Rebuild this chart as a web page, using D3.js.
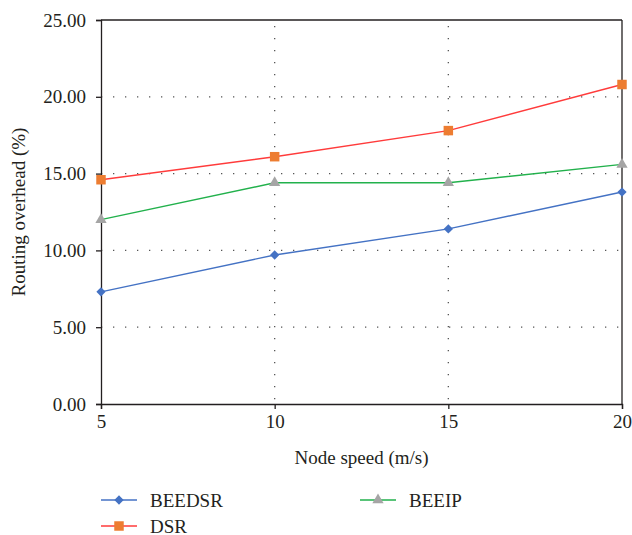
<!DOCTYPE html>
<html>
<head>
<meta charset="utf-8">
<script src="https://cdn.jsdelivr.net/npm/d3@7"></script>
<style>
  body { margin: 0; background: #fff; }
  svg text { fill: #231f20; }
</style>
</head>
<body>
<div id="chart"></div>
<script>
// node speed values on the x axis
const speeds = [5, 10, 15, 20];
// routing overhead (%) per protocol
const beedsr = [7.3, 9.7, 11.4, 13.8];
const dsr = [14.6, 16.1, 17.8, 20.8];
const beeip = [12.0, 14.4, 14.4, 15.6];
const yTicks = [0, 5, 10, 15, 20, 25];

const series = [
    { name: "BEEDSR", values: beedsr, line: "#4472c4", fill: "#4472c4", symbol: d3.symbolDiamond2 || d3.symbolDiamond, size: 55 },
    { name: "DSR", values: dsr, line: "#ff3b3b", fill: "#ed7d31", symbol: d3.symbolSquare, size: 90 },
    { name: "BEEIP", values: beeip, line: "#22b14c", fill: "#a5a5a5", symbol: d3.symbolTriangle, size: 55 }
];

const W = 632, H = 535;
const margin = { top: 20, right: 10, bottom: 131, left: 101 };
const width = 622 - margin.left, height = 404 - margin.top;
const serif = "Liberation Serif";
const fs = 19;

const svg = d3.select("#chart").append("svg")
    .attr("width", W).attr("height", H)
    .style("font-family", serif);
const g = svg.append("g").attr("transform", `translate(${margin.left},${margin.top})`);

const x = d3.scaleLinear().domain([5, 20]).range([0, width]);
const y = d3.scaleLinear().domain([0, 25]).range([height, 0]);

// dotted grid
g.append("g").selectAll("line")
    .data([5, 10, 15, 20])
    .enter().append("line")
    .attr("x1", 0).attr("x2", width)
    .attr("y1", d => y(d)).attr("y2", d => y(d))
    .attr("stroke", "#555").attr("stroke-width", 1.3)
    .attr("stroke-dasharray", "1.3,10.7").attr("stroke-dashoffset", -12);
g.append("g").selectAll("line")
    .data([10, 15])
    .enter().append("line")
    .attr("x1", d => x(d)).attr("x2", d => x(d))
    .attr("y1", 0).attr("y2", height)
    .attr("stroke", "#555").attr("stroke-width", 1.3)
    .attr("stroke-dasharray", "1.3,10.7").attr("stroke-dashoffset", -6);

// frame top and right
g.append("line").attr("x1", 0).attr("x2", width).attr("y1", 0).attr("y2", 0)
    .attr("stroke", "#231f20").attr("stroke-width", 1.3);
g.append("line").attr("x1", width).attr("x2", width).attr("y1", 0).attr("y2", height)
    .attr("stroke", "#231f20").attr("stroke-width", 1.3);

// axes
const yAxis = g.append("g")
    .call(d3.axisLeft(y).tickValues(yTicks).tickFormat(d3.format(".2f")).tickSize(5).tickPadding(10));
const xAxis = g.append("g").attr("transform", `translate(0,${height})`)
    .call(d3.axisBottom(x).tickValues(speeds).tickFormat(d3.format("d")).tickSize(5).tickPadding(6));
[xAxis, yAxis].forEach(a => {
    a.attr("font-family", serif).attr("font-size", fs);
    a.select(".domain").attr("stroke", "#231f20").attr("stroke-width", 1.3);
    a.selectAll(".tick line").attr("stroke", "#231f20").attr("stroke-width", 1.3);
    a.selectAll("text").attr("fill", "#231f20");
});

// lines and markers
const line = d3.line().x((d, i) => x(speeds[i])).y(d => y(d));
series.forEach(s => {
    g.append("path").datum(s.values)
        .attr("d", line).attr("fill", "none")
        .attr("stroke", s.line).attr("stroke-width", 1.4);
    g.append("g").selectAll("path")
        .data(s.values)
        .enter().append("path")
        .attr("transform", (d, i) => `translate(${x(speeds[i])},${y(d)})`)
        .attr("d", d3.symbol().type(s.symbol).size(s.size))
        .attr("fill", s.fill);
});

// axis titles
svg.append("text")
    .attr("x", margin.left + width / 2).attr("y", 464)
    .attr("text-anchor", "middle").attr("font-size", fs)
    .text("Node speed (m/s)");
svg.append("text")
    .attr("transform", `translate(25,${margin.top + height / 2}) rotate(-90)`)
    .attr("text-anchor", "middle").attr("font-size", fs)
    .text("Routing overhead (%)");

// legend
const legendPos = [[101, 500], [101, 526], [360, 500]];
series.forEach((s, i) => {
    const lg = svg.append("g").attr("transform", `translate(${legendPos[i][0]},${legendPos[i][1]})`);
    lg.append("line").attr("x1", 0).attr("x2", 36).attr("y1", 0).attr("y2", 0)
        .attr("stroke", s.line).attr("stroke-width", 1.4);
    lg.append("path").attr("transform", "translate(18,0)")
        .attr("d", d3.symbol().type(s.symbol).size(s.size))
        .attr("fill", s.fill);
    lg.append("text").attr("x", 49).attr("y", 6.5).attr("font-size", fs).text(s.name);
});
</script>
</body>
</html>
